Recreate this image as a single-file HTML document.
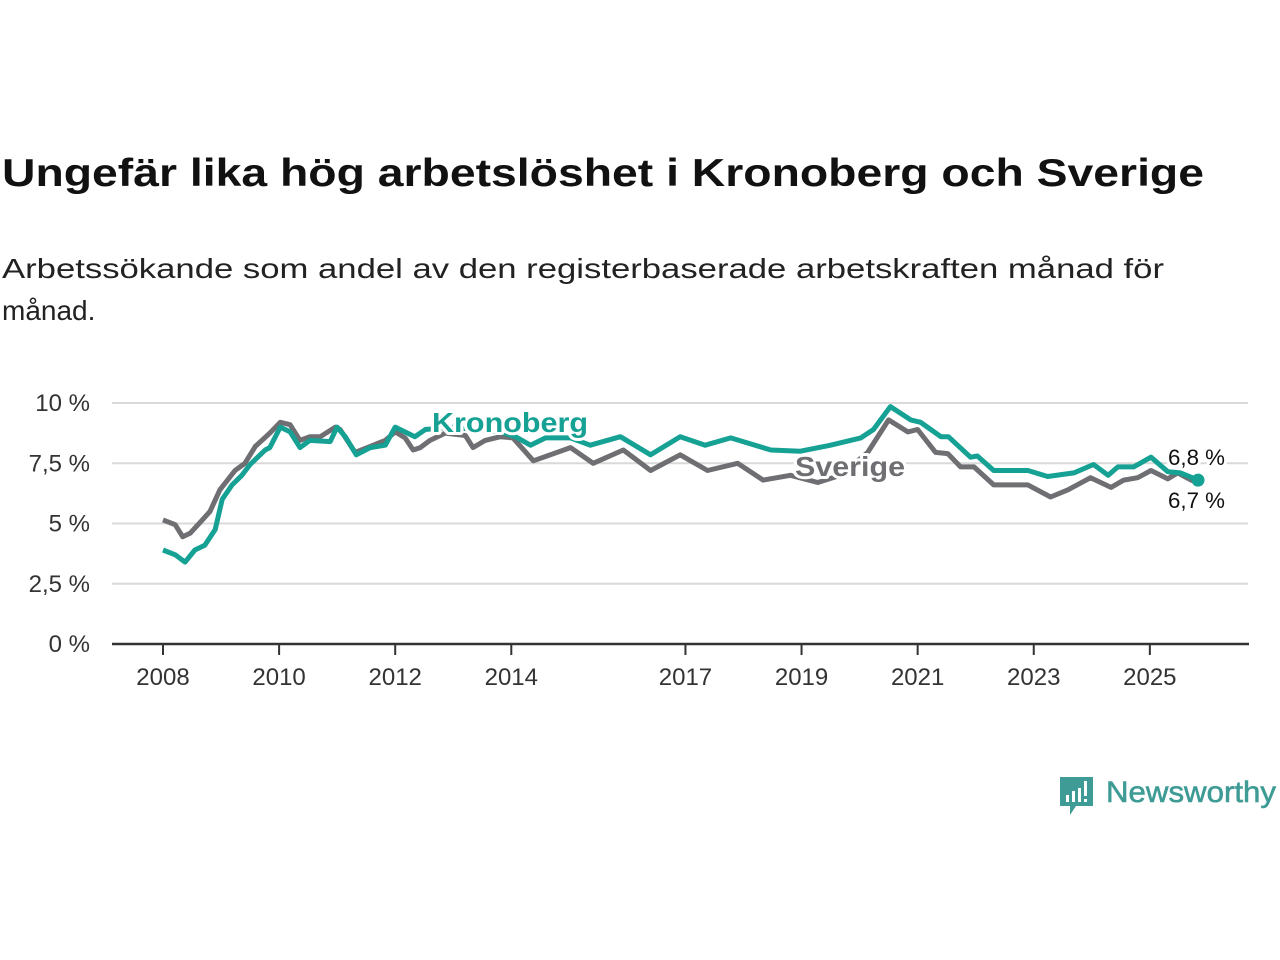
<!DOCTYPE html>
<html><head><meta charset="utf-8"><style>
html,body{margin:0;padding:0;background:#fff;width:1280px;height:960px;overflow:hidden}
svg{display:block;font-family:"Liberation Sans",sans-serif}
</style></head><body>
<svg id="chart" width="1280" height="960" viewBox="0 0 1280 960">
<text x="2" y="186" font-size="39" font-weight="bold" fill="#111" textLength="1202" lengthAdjust="spacingAndGlyphs">Ungefär lika hög arbetslöshet i Kronoberg och Sverige</text>
<text x="2" y="278" font-size="28" fill="#222" textLength="1162" lengthAdjust="spacingAndGlyphs">Arbetssökande som andel av den registerbaserade arbetskraften månad för</text>
<text x="2" y="320" font-size="28" fill="#222">månad.</text>
<g id="grid"></g><g id="axes"></g><g id="series"></g><g id="labels"></g>
<g>
<path d="M1060 777 h33 v29 h-17 l-6 9 v-9 h-10 z" fill="#3f9b95"/>
<rect x="1066" y="795" width="3" height="7" fill="#fff"/><rect x="1072" y="791" width="3" height="11" fill="#fff"/><rect x="1078" y="788" width="3" height="14" fill="#fff"/><rect x="1084" y="781" width="3" height="15" fill="#fff"/><rect x="1084" y="799" width="3" height="3" fill="#fff"/>
<text x="1106" y="802" font-size="30" fill="#3f9b95" stroke="#3f9b95" stroke-width="0.6" textLength="170" lengthAdjust="spacingAndGlyphs">Newsworthy</text>
</g>
</svg>
<script>
const yTicks=[0,2.5,5,7.5,10];
const yTickLabels=["0 %","2,5 %","5 %","7,5 %","10 %"];
const xTicks=[2008,2010,2012,2014,2017,2019,2021,2023,2025];
const kronYears=[2008.00,2008.21,2008.38,2008.55,2008.72,2008.90,2009.02,2009.19,2009.36,2009.50,2009.76,2009.84,2010.02,2010.19,2010.36,2010.53,2010.88,2011.00,2011.14,2011.33,2011.57,2011.83,2012.00,2012.34,2012.52,2012.95,2013.38,2013.81,2014.07,2014.33,2014.59,2015.02,2015.36,2015.88,2016.40,2016.91,2017.34,2017.78,2018.47,2018.98,2019.50,2020.02,2020.24,2020.53,2020.88,2021.05,2021.40,2021.53,2021.91,2022.03,2022.31,2022.90,2023.24,2023.69,2024.03,2024.28,2024.45,2024.72,2025.02,2025.31,2025.53,2025.83];
const kronValues=[3.9,3.7,3.4,3.9,4.1,4.75,6.0,6.6,7.0,7.45,8.05,8.15,9.0,8.8,8.15,8.45,8.4,9.0,8.6,7.85,8.15,8.25,9.0,8.6,8.9,9.0,8.9,8.8,8.6,8.25,8.55,8.55,8.25,8.6,7.85,8.6,8.25,8.55,8.05,8.0,8.25,8.55,8.9,9.85,9.3,9.2,8.6,8.6,7.75,7.8,7.2,7.2,6.95,7.1,7.45,7.0,7.35,7.35,7.75,7.15,7.1,6.8];
const sveYears=[2008.00,2008.21,2008.34,2008.47,2008.64,2008.81,2008.98,2009.24,2009.41,2009.59,2009.84,2010.02,2010.19,2010.36,2010.53,2010.71,2010.97,2011.05,2011.31,2011.57,2011.83,2012.00,2012.17,2012.31,2012.43,2012.60,2012.86,2013.21,2013.34,2013.55,2013.81,2014.03,2014.38,2015.02,2015.41,2015.93,2016.40,2016.91,2017.38,2017.90,2018.34,2018.81,2019.28,2019.67,2020.14,2020.50,2020.83,2021.00,2021.31,2021.52,2021.74,2021.97,2022.31,2022.90,2023.29,2023.59,2023.98,2024.33,2024.55,2024.79,2025.02,2025.31,2025.48,2025.71,2025.83];
const sveValues=[5.15,4.95,4.45,4.6,5.05,5.5,6.4,7.2,7.5,8.2,8.75,9.2,9.1,8.45,8.6,8.6,9.0,8.9,7.95,8.2,8.45,8.8,8.55,8.05,8.15,8.45,8.75,8.65,8.15,8.45,8.6,8.55,7.6,8.15,7.5,8.05,7.2,7.85,7.2,7.5,6.8,7.0,6.7,7.0,7.95,9.3,8.8,8.9,7.95,7.9,7.35,7.35,6.6,6.6,6.1,6.4,6.9,6.5,6.8,6.9,7.2,6.85,7.1,6.8,6.7];
const NS="http://www.w3.org/2000/svg";
const X=y=>163+(y-2008)*58.05;
const Y=v=>644-v*24.1;
function mk(tag,attrs,parent){const e=document.createElementNS(NS,tag);for(const k in attrs)e.setAttribute(k,attrs[k]);parent.appendChild(e);return e;}
const grid=document.getElementById('grid'),axes=document.getElementById('axes'),ser=document.getElementById('series'),lab=document.getElementById('labels');
yTicks.forEach((t,i)=>{
  if(t>0){const g=mk('line',{x1:112,x2:1248,y1:Y(t),y2:Y(t),stroke:'#d9d9d9','stroke-width':2},grid);
  
  }
  const tx=mk('text',{x:90,y:Y(t)+8,'text-anchor':'end','font-size':24,fill:'#333'},axes);
  tx.textContent=yTickLabels[i];
  
  
});
const ax=mk('line',{x1:112,x2:1249,y1:644,y2:644,stroke:'#333','stroke-width':2.5},axes);


xTicks.forEach(t=>{
  const tk=mk('line',{x1:X(t),x2:X(t),y1:644,y2:655,stroke:'#333','stroke-width':2},axes);
  
  
  const tx=mk('text',{x:X(t),y:685,'text-anchor':'middle','font-size':24,fill:'#333'},axes);
  tx.textContent=t;
  
  
});
function pts(ys,vs){return ys.map((y,i)=>X(y).toFixed(1)+','+Y(vs[i]).toFixed(1)).join(' ');}
const sl=mk('polyline',{points:pts(sveYears,sveValues),fill:'none',stroke:'#6f6e73','stroke-width':5,'stroke-linejoin':'round'},ser);


const kl=mk('polyline',{points:pts(kronYears,kronValues),fill:'none',stroke:'#15a193','stroke-width':5,'stroke-linejoin':'round'},ser);


const n=kronYears.length-1;
const dot=mk('circle',{cx:X(kronYears[n]),cy:Y(kronValues[n]),r:6.5,fill:'#15a193'},ser);


function label(txt,x,y,fill,name,size,bold,len){
  const a={x:x,y:y,'font-size':size,'font-weight':bold?'bold':'normal',fill:fill,stroke:'#fff','stroke-width':6,'paint-order':'stroke','stroke-linejoin':'round'};
  if(len){a.textLength=len;a.lengthAdjust='spacingAndGlyphs';}
  const t=mk('text',a,lab);
  t.textContent=txt;
  
  
}
label('Kronoberg',432,432,'#15a193','kronoberg-label',28,true,156);
label('Sverige',795,476,'#6f6e73','sverige-label',28,true,110);
label('6,8 %',1168,465,'#111','kronoberg-end-value',22,false,57);
label('6,7 %',1168,508,'#111','sverige-end-value',22,false,57);
</script>
</body></html>
